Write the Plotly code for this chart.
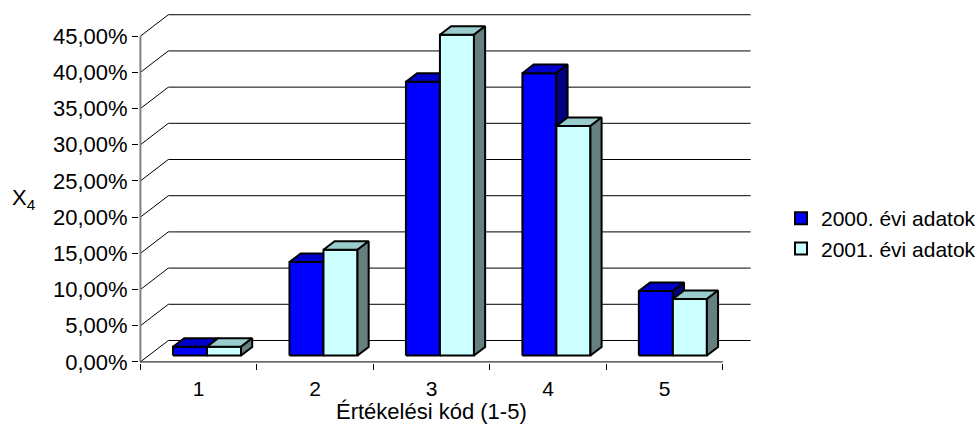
import plotly.graph_objects as go

# ---------------- data ----------------
categories = ["1", "2", "3", "4", "5"]
series_names = ["2000. évi adatok", "2001. évi adatok"]
values_2000 = [1.2, 12.9, 37.8, 39.0, 8.9]
values_2001 = [1.2, 14.6, 44.3, 31.7, 7.8]
y_tick_values = [0, 5, 10, 15, 20, 25, 30, 35, 40, 45]
y_tick_labels = ["0,00%", "5,00%", "10,00%", "15,00%", "20,00%",
                 "25,00%", "30,00%", "35,00%", "40,00%", "45,00%"]
x_title = "Értékelési kód (1-5)"
y_title = "X<sub>4</sub>"

# ---------------- styling / geometry ----------------
W, H = 979, 438
U = 116.5      # px per category
V = 7.24       # px per percent
X0PX = 140.0   # pixel of x=0
Y0PX = 361.7   # pixel of y=0
DX, DY = 0.24, 2.96        # 3D depth offset (data units)
F0, FD = 0.30, 0.40        # bar front plane / bar depth as fraction of depth
BW = 0.292                 # bar width (category units)
FONT = "Arial, Liberation Sans, sans-serif"
FS = 22

front_cols = ["#0000FF", "#CCFFFF"]
top_cols = ["#0000CC", "#99CCCC"]
side_cols = ["#000080", "#668080"]

xr = [-0.012, len(categories) + DX + 0.02]
yr = [-0.15, 48.2]
l = X0PX + xr[0] * U
pw = (xr[1] - xr[0]) * U
r = W - l - pw
b = H - (Y0PX - yr[0] * V)
t = Y0PX - yr[1] * V

fig = go.Figure()

# back wall gridlines + diagonals
gx, gy = [], []
for v in y_tick_values:
    gx += [0, DX, len(categories) + DX, None]
    gy += [v, v + DY, v + DY, None]
fig.add_trace(go.Scatter(x=gx, y=gy, mode="lines", line=dict(color="black", width=1),
                         hoverinfo="skip", showlegend=False))

# front axes lines
fig.add_trace(go.Scatter(x=[0, 0], y=[0, max(y_tick_values)], mode="lines",
                         line=dict(color="#808080", width=2), hoverinfo="skip", showlegend=False))
fig.add_trace(go.Scatter(x=[0, len(categories)], y=[0, 0], mode="lines",
                         line=dict(color="black", width=1), hoverinfo="skip", showlegend=False))

# 3D bars
ddx, ddy = FD * DX, FD * DY
for s, vals in enumerate([values_2000, values_2001]):
    fx, fy, tx, ty, sx, sy = [], [], [], [], [], []
    for i, v in enumerate(vals):
        xl = i + 0.5 + F0 * DX - BW + s * BW
        xrr = xl + BW
        yb = F0 * DY
        yt = yb + v
        fx += [xl, xrr, xrr, xl, xl, None]
        fy += [yb, yb, yt, yt, yb, None]
        tx += [xl, xrr, xrr + ddx, xl + ddx, xl, None]
        ty += [yt, yt, yt + ddy, yt + ddy, yt, None]
        sx += [xrr, xrr + ddx, xrr + ddx, xrr, xrr, None]
        sy += [yb, yb + ddy, yt + ddy, yt, yb, None]
    for px, py, col in [(fx, fy, front_cols[s]), (tx, ty, top_cols[s]), (sx, sy, side_cols[s])]:
        fig.add_trace(go.Scatter(x=px, y=py, mode="lines", fill="toself", fillcolor=col,
                                 line=dict(color="black", width=2), hoverinfo="skip",
                                 showlegend=False))

# legend entries
for s, name in enumerate(series_names):
    fig.add_trace(go.Bar(x=[None], y=[None], name=name,
                         marker=dict(color=front_cols[s], line=dict(color="black", width=2))))

fig.update_layout(
    width=W, height=H, autosize=False,
    margin=dict(l=l, r=r, t=t, b=b, pad=0),
    paper_bgcolor="white", plot_bgcolor="white",
    font=dict(family=FONT, size=FS, color="black"),
    barmode="overlay",
    xaxis=dict(range=xr, showgrid=False, zeroline=False, showline=False,
               tickmode="array", tickvals=[i + 0.5 for i in range(len(categories))],
               ticktext=categories, ticks="", ticklabelstandoff=11,
               tickfont=dict(size=21, family=FONT),
               minor=dict(tickmode="array", tickvals=list(range(len(categories) + 1)),
                          ticks="outside", ticklen=6, tickwidth=1, tickcolor="black",
                          showgrid=False),
               automargin=False, fixedrange=True),
    yaxis=dict(range=yr, showgrid=False, zeroline=False, showline=False,
               tickmode="array", tickvals=y_tick_values, ticktext=y_tick_labels,
               ticks="outside", ticklen=6, tickwidth=1, tickcolor="black",
               tickfont=dict(size=FS, family=FONT),
               automargin=False, fixedrange=True),
    legend=dict(xref="container", yref="container", x=781 / W, y=1 - 198 / H,
                xanchor="left", yanchor="top", font=dict(size=21, family=FONT),
                bgcolor="rgba(0,0,0,0)", borderwidth=0, traceorder="normal"),
    showlegend=True,
    annotations=[
        dict(text=x_title, x=len(categories) / 2, y=0, xref="x", yref="y",
             yshift=-50, yanchor="middle", xanchor="center", showarrow=False,
             font=dict(size=FS, family=FONT)),
        dict(text=y_title, x=0, y=max(y_tick_values) / 2, xref="x", yref="y",
             xshift=-116, xanchor="center", yanchor="middle", showarrow=False,
             font=dict(size=FS, family=FONT)),
    ],
)

fig.write_html("out.html", config={"displayModeBar": False},
               post_script="document.body.style.margin='0';document.body.style.overflow='hidden';")
